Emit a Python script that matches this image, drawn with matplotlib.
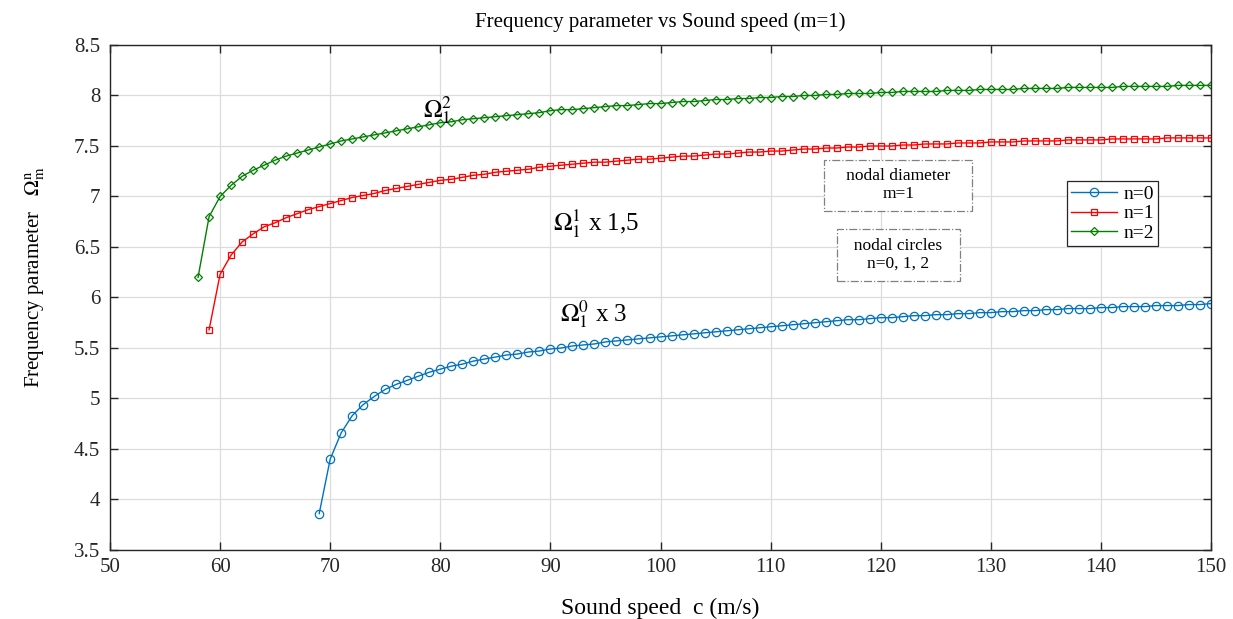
import matplotlib
matplotlib.use('Agg')
import matplotlib.pyplot as plt
import numpy as np

# data (sound speed c in m/s -> frequency parameter)
c_n0 = list(range(69, 151))
omega_n0 = [3.86, 4.40, 4.66, 4.83, 4.94, 5.02, 5.09, 5.14, 5.18, 5.22,
            5.26, 5.29, 5.32, 5.34, 5.37, 5.39, 5.41, 5.43, 5.44, 5.46,
            5.47, 5.49, 5.50, 5.52, 5.53, 5.54, 5.56, 5.57, 5.58, 5.59,
            5.60, 5.61, 5.62, 5.63, 5.64, 5.65, 5.66, 5.67, 5.68, 5.69,
            5.70, 5.71, 5.72, 5.73, 5.74, 5.75, 5.76, 5.77, 5.78, 5.78,
            5.79, 5.80, 5.80, 5.81, 5.82, 5.82, 5.83, 5.83, 5.84, 5.84,
            5.85, 5.85, 5.86, 5.86, 5.87, 5.87, 5.88, 5.88, 5.89, 5.89,
            5.89, 5.90, 5.90, 5.91, 5.91, 5.91, 5.92, 5.92, 5.92, 5.93,
            5.93, 5.94]

c_n1 = list(range(59, 151))
omega_n1 = [5.68, 6.23, 6.42, 6.55, 6.63, 6.70, 6.74, 6.79, 6.83, 6.87,
            6.90, 6.93, 6.96, 6.99, 7.01, 7.03, 7.06, 7.08, 7.10, 7.12,
            7.14, 7.16, 7.17, 7.19, 7.21, 7.22, 7.24, 7.25, 7.26, 7.27,
            7.29, 7.30, 7.31, 7.32, 7.33, 7.34, 7.34, 7.35, 7.36, 7.37,
            7.37, 7.38, 7.39, 7.40, 7.40, 7.41, 7.42, 7.42, 7.43, 7.44,
            7.44, 7.45, 7.45, 7.46, 7.47, 7.47, 7.48, 7.48, 7.49, 7.49,
            7.50, 7.50, 7.50, 7.51, 7.51, 7.52, 7.52, 7.52, 7.53, 7.53,
            7.53, 7.54, 7.54, 7.54, 7.55, 7.55, 7.55, 7.55, 7.56, 7.56,
            7.56, 7.56, 7.57, 7.57, 7.57, 7.57, 7.57, 7.58, 7.58, 7.58,
            7.58, 7.58]

c_n2 = list(range(58, 151))
omega_n2 = [6.20, 6.80, 7.00, 7.11, 7.20, 7.26, 7.31, 7.36, 7.40, 7.43,
            7.46, 7.49, 7.52, 7.55, 7.57, 7.59, 7.61, 7.63, 7.65, 7.67,
            7.69, 7.71, 7.73, 7.74, 7.76, 7.77, 7.78, 7.79, 7.80, 7.81,
            7.82, 7.83, 7.85, 7.86, 7.86, 7.87, 7.88, 7.89, 7.90, 7.90,
            7.91, 7.92, 7.92, 7.93, 7.94, 7.94, 7.95, 7.96, 7.96, 7.97,
            7.97, 7.98, 7.98, 7.99, 7.99, 8.00, 8.00, 8.01, 8.01, 8.02,
            8.02, 8.02, 8.03, 8.03, 8.04, 8.04, 8.04, 8.04, 8.05, 8.05,
            8.05, 8.06, 8.06, 8.06, 8.06, 8.07, 8.07, 8.07, 8.07, 8.08,
            8.08, 8.08, 8.08, 8.08, 8.09, 8.09, 8.09, 8.09, 8.09, 8.10,
            8.10, 8.10, 8.10]

plt.rcParams['font.family'] = ['Liberation Serif', 'DejaVu Serif']
plt.rcParams['mathtext.fontset'] = 'stix'

fig = plt.figure(figsize=(12.33, 6.19), dpi=100)
ax = fig.add_axes([0.0892, 0.1115, 0.893, 0.8158])

ax.plot(c_n0, omega_n0, '-o', color='#0072BD', lw=1, ms=6, mfc='none', mew=0.9, label='n=0')
ax.plot(c_n1, omega_n1, '-s', color='#FF0000', lw=1, ms=4.5, mfc='none', mew=0.9, label='n=1')
ax.plot(c_n2, omega_n2, '-D', color='#008000', lw=1, ms=4.5, mfc='none', mew=0.9, label='n=2')

ax.set_xlim(50, 150)
ax.set_ylim(3.5, 8.5)
ax.set_xticks(np.arange(50, 151, 10))
ax.set_yticks(np.arange(3.5, 8.51, 0.5))
ax.set_yticklabels(['3.5', '4', '4.5', '5', '5.5', '6', '6.5', '7', '7.5', '8', '8.5'])
ax.grid(True, color='#dcdcdc', lw=0.9)
ax.tick_params(direction='in', length=6, width=1, top=True, right=True,
               labelsize=15, colors='#262626')
ax.tick_params(axis='x', pad=6)
ax.tick_params(axis='y', pad=7)
for s in ax.spines.values():
    s.set_color('#262626')
    s.set_linewidth(1)

ax.set_title('Frequency parameter vs Sound speed (m=1)', fontsize=15, pad=13)
ax.set_xlabel('Sound speed  c (m/s)', fontsize=17, labelpad=15)
ax.set_ylabel(r'Frequency parameter   $\Omega_{\mathrm{m}}^{\mathrm{n}}$', fontsize=15)
ax.yaxis.set_label_coords(-0.057, 0.54)

ax.text(79.8, 7.86, r'$\Omega_1^2$', fontsize=18, ha='center', va='center')
ax.text(94.1, 6.73, r'$\Omega_1^1$ x 1,5', fontsize=18, ha='center', va='center')
ax.text(93.9, 5.84, r'$\Omega_1^0$ x 3', fontsize=18, ha='center', va='center')

box = dict(boxstyle='square,pad=0.5', fc='white', ec='#808080', ls='-.', lw=0.9)
ax.text(121.6, 7.11, '   nodal diameter   \nm=1', fontsize=12.5, ha='center', va='center',
        multialignment='center', linespacing=1.15, bbox=box)
ax.text(121.6, 6.42, '  nodal circles  \nn=0, 1, 2', fontsize=12.5, ha='center', va='center',
        multialignment='center', linespacing=1.15, bbox=box)

leg = ax.legend(loc='upper left', bbox_to_anchor=(0.869, 0.73), fontsize=14,
                frameon=True, fancybox=False, edgecolor='#262626', framealpha=1,
                handlelength=2.4, borderpad=0.2, labelspacing=0.1, handletextpad=0.3,
                borderaxespad=0)
leg.get_frame().set_linewidth(0.9)

fig.savefig('out.png', dpi=100)
